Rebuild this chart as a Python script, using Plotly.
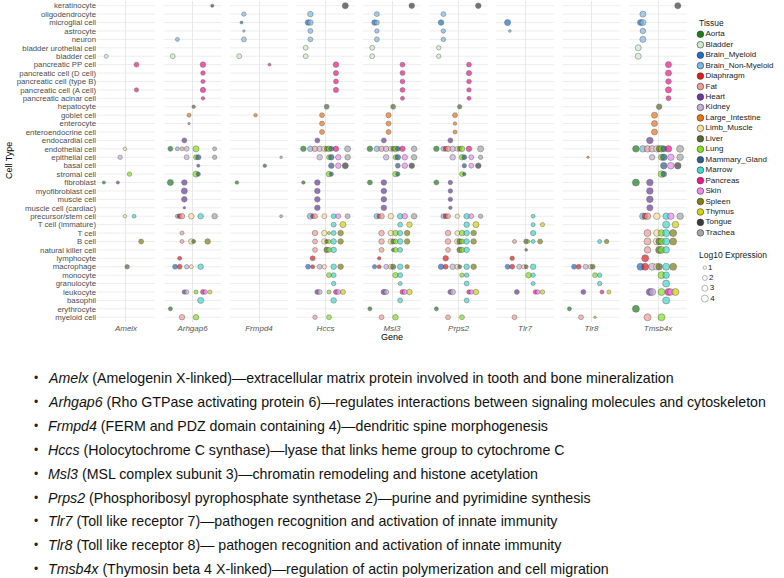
import plotly.graph_objects as go

W, H = 784, 578

GENES = ["Amelx", "Arhgap6", "Frmpd4", "Hccs", "Msl3", "Prps2", "Tlr7", "Tlr8", "Tmsb4x"]

CELL_TYPES = [
    "keratinocyte", "oligodendrocyte", "microglial cell", "astrocyte", "neuron",
    "bladder urothelial cell", "bladder cell", "pancreatic PP cell", "pancreatic cell (D cell)",
    "pancreatic cell (type B)", "pancreatic cell (A cell)", "pancreatic acinar cell", "hepatocyte",
    "goblet cell", "enterocyte", "enteroendocrine cell", "endocardial cell", "endothelial cell",
    "epithelial cell", "basal cell", "stromal cell", "fibroblast", "myofibroblast cell",
    "muscle cell", "muscle cell (cardiac)", "precursor/stem cell", "T cell (immature)", "T cell",
    "B cell", "natural killer cell", "lymphocyte", "macrophage", "monocyte", "granulocyte",
    "leukocyte", "basophil", "erythrocyte", "myeloid cell",
]

TISSUES = [
    "Aorta", "Bladder", "Brain_Myeloid", "Brain_Non-Myeloid", "Diaphragm", "Fat", "Heart",
    "Kidney", "Large_Intestine", "Limb_Muscle", "Liver", "Lung", "Mammary_Gland", "Marrow",
    "Pancreas", "Skin", "Spleen", "Thymus", "Tongue", "Trachea",
]
TISSUE_COLORS = [
    "#1B7D1B", "#C8EFC4", "#1E6FC8", "#7CB8E6", "#E3191C", "#F29C98", "#6A3A9C",
    "#C8AEDA", "#E67716", "#FCE09A", "#556B2F", "#80E31C", "#2D5F8C", "#3ED9CF",
    "#EE1689", "#F08AF0", "#808010", "#D8D20E", "#3B3B3B", "#A8A8A8",
]

SIZE_LEVELS = [1, 2, 3, 4]

# (cell type, tissue, log10 expression)
AMELX = [
    ("bladder cell", "Bladder", 1.3), ("pancreatic PP cell", "Pancreas", 2.0),
    ("pancreatic cell (A cell)", "Pancreas", 1.5), ("endothelial cell", "Limb_Muscle", 1.0),
    ("epithelial cell", "Kidney", 1.6), ("stromal cell", "Lung", 1.6),
    ("fibroblast", "Aorta", 0.8), ("fibroblast", "Heart", 0.8),
    ("precursor/stem cell", "Limb_Muscle", 1.0), ("precursor/stem cell", "Marrow", 1.2),
    ("B cell", "Spleen", 2.0), ("macrophage", "Liver", 1.6),
]

ARHGAP6 = [
    ("keratinocyte", "Tongue", 0.8), ("neuron", "Brain_Non-Myeloid", 1.3),
    ("bladder cell", "Bladder", 2.0), ("pancreatic PP cell", "Pancreas", 2.5),
    ("pancreatic cell (D cell)", "Pancreas", 1.7), ("pancreatic cell (type B)", "Pancreas", 1.4),
    ("pancreatic cell (A cell)", "Pancreas", 2.3), ("pancreatic acinar cell", "Pancreas", 1.0),
    ("hepatocyte", "Liver", 1.0), ("goblet cell", "Large_Intestine", 1.3),
    ("enterocyte", "Large_Intestine", 0.3), ("endocardial cell", "Heart", 2.0),
    ("endothelial cell", "Aorta", 2.0), ("endothelial cell", "Brain_Non-Myeloid", 1.3),
    ("endothelial cell", "Fat", 1.3), ("endothelial cell", "Kidney", 2.0),
    ("endothelial cell", "Lung", 3.0), ("endothelial cell", "Trachea", 1.3),
    ("epithelial cell", "Kidney", 2.0), ("epithelial cell", "Lung", 2.0),
    ("epithelial cell", "Mammary_Gland", 2.2), ("epithelial cell", "Trachea", 1.6),
    ("basal cell", "Mammary_Gland", 0.8), ("stromal cell", "Lung", 3.0),
    ("stromal cell", "Mammary_Gland", 1.5), ("fibroblast", "Aorta", 3.0),
    ("fibroblast", "Heart", 2.5), ("myofibroblast cell", "Heart", 3.0),
    ("muscle cell", "Heart", 2.5), ("muscle cell (cardiac)", "Heart", 0.4),
    ("precursor/stem cell", "Brain_Non-Myeloid", 1.3), ("precursor/stem cell", "Diaphragm", 2.0),
    ("precursor/stem cell", "Fat", 2.5), ("precursor/stem cell", "Limb_Muscle", 2.5),
    ("precursor/stem cell", "Marrow", 2.5), ("precursor/stem cell", "Trachea", 2.5),
    ("T cell", "Fat", 1.3), ("B cell", "Fat", 1.3), ("B cell", "Limb_Muscle", 2.5),
    ("B cell", "Liver", 1.3), ("B cell", "Spleen", 2.5), ("lymphocyte", "Diaphragm", 1.3),
    ("macrophage", "Brain_Myeloid", 2.0), ("macrophage", "Diaphragm", 2.0),
    ("macrophage", "Kidney", 1.6), ("macrophage", "Limb_Muscle", 1.3),
    ("macrophage", "Marrow", 2.5), ("leukocyte", "Heart", 1.6), ("leukocyte", "Kidney", 1.6),
    ("leukocyte", "Lung", 1.3), ("leukocyte", "Pancreas", 2.0), ("leukocyte", "Skin", 1.6),
    ("leukocyte", "Thymus", 1.3), ("basophil", "Marrow", 3.0), ("erythrocyte", "Aorta", 1.3),
    ("myeloid cell", "Fat", 2.5), ("myeloid cell", "Lung", 2.5),
]

FRMPD4 = [
    ("oligodendrocyte", "Brain_Non-Myeloid", 1.6), ("microglial cell", "Brain_Myeloid", 0.7),
    ("astrocyte", "Brain_Non-Myeloid", 0.3), ("neuron", "Brain_Non-Myeloid", 2.0),
    ("bladder cell", "Bladder", 2.0), ("pancreatic PP cell", "Pancreas", 0.7),
    ("goblet cell", "Large_Intestine", 1.0), ("epithelial cell", "Trachea", 0.5),
    ("basal cell", "Mammary_Gland", 1.0), ("fibroblast", "Aorta", 1.0),
    ("precursor/stem cell", "Trachea", 0.7),
]

HCCS = [
    ("keratinocyte", "Tongue", 3.0), ("oligodendrocyte", "Brain_Non-Myeloid", 2.5),
    ("microglial cell", "Brain_Myeloid", 2.5), ("microglial cell", "Brain_Non-Myeloid", 2.5),
    ("astrocyte", "Brain_Non-Myeloid", 2.0), ("neuron", "Brain_Non-Myeloid", 2.0),
    ("bladder urothelial cell", "Bladder", 2.0), ("bladder cell", "Bladder", 2.0),
    ("pancreatic PP cell", "Pancreas", 2.5), ("pancreatic cell (D cell)", "Pancreas", 2.2),
    ("pancreatic cell (type B)", "Pancreas", 2.0), ("pancreatic cell (A cell)", "Pancreas", 2.2),
    ("hepatocyte", "Liver", 2.0), ("goblet cell", "Large_Intestine", 2.0),
    ("enterocyte", "Large_Intestine", 2.0), ("enteroendocrine cell", "Large_Intestine", 2.0),
    ("endocardial cell", "Heart", 2.0),
    ("endothelial cell", "Aorta", 2.5), ("endothelial cell", "Brain_Non-Myeloid", 2.5),
    ("endothelial cell", "Fat", 2.5), ("endothelial cell", "Kidney", 2.5),
    ("endothelial cell", "Limb_Muscle", 2.5), ("endothelial cell", "Liver", 2.0),
    ("endothelial cell", "Lung", 2.5), ("endothelial cell", "Mammary_Gland", 2.0),
    ("endothelial cell", "Pancreas", 2.5), ("endothelial cell", "Trachea", 3.0),
    ("epithelial cell", "Kidney", 2.5), ("epithelial cell", "Lung", 2.0),
    ("epithelial cell", "Mammary_Gland", 2.5), ("epithelial cell", "Skin", 2.5),
    ("epithelial cell", "Trachea", 2.5), ("basal cell", "Mammary_Gland", 2.5),
    ("basal cell", "Skin", 2.5), ("basal cell", "Tongue", 3.0),
    ("stromal cell", "Lung", 2.5), ("stromal cell", "Mammary_Gland", 1.5),
    ("fibroblast", "Aorta", 1.0), ("fibroblast", "Heart", 2.5),
    ("myofibroblast cell", "Heart", 2.5), ("muscle cell", "Heart", 2.5),
    ("muscle cell (cardiac)", "Heart", 2.5),
    ("precursor/stem cell", "Brain_Non-Myeloid", 3.0), ("precursor/stem cell", "Diaphragm", 1.5),
    ("precursor/stem cell", "Fat", 2.0), ("precursor/stem cell", "Limb_Muscle", 2.0),
    ("precursor/stem cell", "Marrow", 2.0), ("precursor/stem cell", "Skin", 2.0),
    ("precursor/stem cell", "Trachea", 2.0),
    ("T cell (immature)", "Marrow", 2.0), ("T cell (immature)", "Thymus", 3.0),
    ("T cell", "Fat", 2.5), ("T cell", "Limb_Muscle", 2.5), ("T cell", "Lung", 0.8),
    ("T cell", "Marrow", 2.0), ("T cell", "Spleen", 2.5),
    ("B cell", "Fat", 2.0), ("B cell", "Limb_Muscle", 2.5), ("B cell", "Liver", 1.3),
    ("B cell", "Lung", 1.3), ("B cell", "Marrow", 2.5), ("B cell", "Spleen", 2.5),
    ("natural killer cell", "Fat", 2.0), ("natural killer cell", "Liver", 2.5),
    ("natural killer cell", "Lung", 2.0), ("natural killer cell", "Marrow", 2.5),
    ("lymphocyte", "Diaphragm", 2.0),
    ("macrophage", "Brain_Myeloid", 2.0), ("macrophage", "Diaphragm", 1.3),
    ("macrophage", "Kidney", 2.0), ("macrophage", "Limb_Muscle", 1.6),
    ("macrophage", "Marrow", 2.5), ("macrophage", "Spleen", 2.5),
    ("monocyte", "Lung", 2.0), ("monocyte", "Marrow", 2.0), ("granulocyte", "Marrow", 1.6),
    ("leukocyte", "Heart", 2.0), ("leukocyte", "Kidney", 2.0), ("leukocyte", "Lung", 1.3),
    ("leukocyte", "Pancreas", 2.0), ("leukocyte", "Skin", 2.0), ("leukocyte", "Thymus", 2.0),
    ("basophil", "Marrow", 2.5), ("myeloid cell", "Fat", 1.6), ("myeloid cell", "Lung", 2.0),
]

MSL3 = [
    ("keratinocyte", "Tongue", 2.5), ("oligodendrocyte", "Brain_Non-Myeloid", 2.0),
    ("microglial cell", "Brain_Myeloid", 2.5), ("microglial cell", "Brain_Non-Myeloid", 2.0),
    ("astrocyte", "Brain_Non-Myeloid", 1.6), ("neuron", "Brain_Non-Myeloid", 2.0),
    ("bladder urothelial cell", "Bladder", 2.0), ("bladder cell", "Bladder", 2.0),
    ("pancreatic PP cell", "Pancreas", 2.0), ("pancreatic cell (D cell)", "Pancreas", 2.0),
    ("pancreatic cell (type B)", "Pancreas", 1.8), ("pancreatic cell (A cell)", "Pancreas", 2.0),
    ("pancreatic acinar cell", "Pancreas", 1.3), ("hepatocyte", "Liver", 2.0),
    ("goblet cell", "Large_Intestine", 2.2), ("enterocyte", "Large_Intestine", 2.0),
    ("enteroendocrine cell", "Large_Intestine", 2.0), ("endocardial cell", "Heart", 2.0),
    ("endothelial cell", "Aorta", 2.5), ("endothelial cell", "Brain_Non-Myeloid", 2.5),
    ("endothelial cell", "Fat", 2.5), ("endothelial cell", "Kidney", 2.5),
    ("endothelial cell", "Limb_Muscle", 2.0), ("endothelial cell", "Liver", 2.0),
    ("endothelial cell", "Lung", 2.5), ("endothelial cell", "Mammary_Gland", 2.0),
    ("endothelial cell", "Pancreas", 2.5), ("endothelial cell", "Trachea", 2.5),
    ("epithelial cell", "Kidney", 2.5), ("epithelial cell", "Lung", 2.0),
    ("epithelial cell", "Mammary_Gland", 2.5), ("epithelial cell", "Skin", 2.5),
    ("epithelial cell", "Trachea", 2.5), ("basal cell", "Mammary_Gland", 2.0),
    ("basal cell", "Skin", 2.5), ("basal cell", "Tongue", 2.5),
    ("stromal cell", "Lung", 2.5), ("stromal cell", "Mammary_Gland", 1.5),
    ("fibroblast", "Aorta", 2.0), ("fibroblast", "Heart", 2.5),
    ("myofibroblast cell", "Heart", 2.5), ("muscle cell", "Heart", 2.5),
    ("muscle cell (cardiac)", "Heart", 2.5),
    ("precursor/stem cell", "Brain_Non-Myeloid", 2.5), ("precursor/stem cell", "Diaphragm", 1.5),
    ("precursor/stem cell", "Fat", 2.5), ("precursor/stem cell", "Limb_Muscle", 2.5),
    ("precursor/stem cell", "Marrow", 2.5), ("precursor/stem cell", "Skin", 2.5),
    ("precursor/stem cell", "Trachea", 2.5),
    ("T cell (immature)", "Marrow", 2.0), ("T cell (immature)", "Thymus", 2.5),
    ("T cell", "Fat", 2.5), ("T cell", "Limb_Muscle", 2.5), ("T cell", "Lung", 2.5),
    ("T cell", "Marrow", 2.2), ("T cell", "Spleen", 2.5),
    ("B cell", "Fat", 2.5), ("B cell", "Limb_Muscle", 2.5), ("B cell", "Liver", 2.0),
    ("B cell", "Lung", 2.0), ("B cell", "Marrow", 2.5), ("B cell", "Spleen", 2.5),
    ("natural killer cell", "Fat", 2.0), ("natural killer cell", "Liver", 1.0),
    ("natural killer cell", "Lung", 2.0), ("natural killer cell", "Marrow", 2.0),
    ("lymphocyte", "Diaphragm", 1.0),
    ("macrophage", "Brain_Myeloid", 1.5), ("macrophage", "Diaphragm", 1.3),
    ("macrophage", "Kidney", 2.0), ("macrophage", "Limb_Muscle", 2.0),
    ("macrophage", "Liver", 2.2), ("macrophage", "Marrow", 2.5), ("macrophage", "Spleen", 1.5),
    ("monocyte", "Lung", 2.5), ("monocyte", "Marrow", 2.0), ("granulocyte", "Marrow", 1.3),
    ("leukocyte", "Heart", 2.5), ("leukocyte", "Kidney", 2.0), ("leukocyte", "Pancreas", 2.0),
    ("leukocyte", "Skin", 2.0), ("leukocyte", "Thymus", 2.5),
    ("basophil", "Marrow", 2.0), ("erythrocyte", "Aorta", 1.3),
    ("myeloid cell", "Fat", 2.0), ("myeloid cell", "Lung", 2.5),
]

PRPS2 = [
    ("keratinocyte", "Tongue", 2.5), ("oligodendrocyte", "Brain_Non-Myeloid", 2.0),
    ("microglial cell", "Brain_Myeloid", 2.5), ("astrocyte", "Brain_Non-Myeloid", 1.6),
    ("neuron", "Brain_Non-Myeloid", 1.6), ("bladder urothelial cell", "Bladder", 1.6),
    ("bladder cell", "Bladder", 1.6), ("pancreatic PP cell", "Pancreas", 2.0),
    ("pancreatic cell (D cell)", "Pancreas", 2.2), ("pancreatic cell (type B)", "Pancreas", 1.8),
    ("pancreatic cell (A cell)", "Pancreas", 1.6), ("pancreatic acinar cell", "Pancreas", 1.3),
    ("hepatocyte", "Liver", 1.6), ("goblet cell", "Large_Intestine", 2.0),
    ("enterocyte", "Large_Intestine", 1.0), ("enteroendocrine cell", "Large_Intestine", 1.3),
    ("endocardial cell", "Heart", 2.0),
    ("endothelial cell", "Aorta", 2.5), ("endothelial cell", "Brain_Non-Myeloid", 2.0),
    ("endothelial cell", "Diaphragm", 2.0), ("endothelial cell", "Fat", 2.5),
    ("endothelial cell", "Kidney", 2.5), ("endothelial cell", "Limb_Muscle", 2.0),
    ("endothelial cell", "Liver", 2.0), ("endothelial cell", "Lung", 2.5),
    ("endothelial cell", "Pancreas", 2.5), ("endothelial cell", "Trachea", 3.0),
    ("epithelial cell", "Kidney", 2.5), ("epithelial cell", "Lung", 2.5),
    ("epithelial cell", "Mammary_Gland", 2.0), ("epithelial cell", "Skin", 2.0),
    ("epithelial cell", "Trachea", 1.6), ("basal cell", "Mammary_Gland", 1.6),
    ("basal cell", "Skin", 2.0), ("basal cell", "Tongue", 2.5),
    ("stromal cell", "Lung", 2.0), ("stromal cell", "Mammary_Gland", 1.0),
    ("fibroblast", "Aorta", 2.0), ("fibroblast", "Heart", 1.6),
    ("myofibroblast cell", "Heart", 1.6), ("muscle cell", "Heart", 1.6),
    ("muscle cell (cardiac)", "Heart", 1.0),
    ("precursor/stem cell", "Brain_Non-Myeloid", 2.0), ("precursor/stem cell", "Diaphragm", 2.0),
    ("precursor/stem cell", "Fat", 2.0), ("precursor/stem cell", "Limb_Muscle", 1.6),
    ("precursor/stem cell", "Marrow", 2.5), ("precursor/stem cell", "Skin", 2.0),
    ("precursor/stem cell", "Trachea", 1.6),
    ("T cell (immature)", "Marrow", 2.5), ("T cell (immature)", "Thymus", 3.0),
    ("T cell", "Fat", 2.5), ("T cell", "Limb_Muscle", 2.0), ("T cell", "Lung", 2.5),
    ("T cell", "Marrow", 2.5), ("T cell", "Spleen", 2.5),
    ("B cell", "Fat", 2.5), ("B cell", "Limb_Muscle", 2.5), ("B cell", "Liver", 2.5),
    ("B cell", "Lung", 2.0), ("B cell", "Marrow", 2.5), ("B cell", "Spleen", 2.5),
    ("natural killer cell", "Fat", 2.0), ("natural killer cell", "Liver", 2.5),
    ("natural killer cell", "Lung", 2.2), ("natural killer cell", "Marrow", 2.5),
    ("lymphocyte", "Diaphragm", 2.5),
    ("macrophage", "Brain_Myeloid", 2.5), ("macrophage", "Diaphragm", 2.0),
    ("macrophage", "Kidney", 2.5), ("macrophage", "Limb_Muscle", 2.0),
    ("macrophage", "Liver", 1.3), ("macrophage", "Marrow", 2.5), ("macrophage", "Spleen", 2.5),
    ("monocyte", "Lung", 1.6), ("monocyte", "Marrow", 1.6), ("granulocyte", "Marrow", 2.0),
    ("leukocyte", "Heart", 2.0), ("leukocyte", "Kidney", 2.5), ("leukocyte", "Pancreas", 1.6),
    ("leukocyte", "Skin", 1.6), ("leukocyte", "Thymus", 2.5),
    ("basophil", "Marrow", 2.0), ("erythrocyte", "Aorta", 1.3),
    ("myeloid cell", "Fat", 2.0), ("myeloid cell", "Lung", 2.0),
]

TLR7 = [
    ("microglial cell", "Brain_Myeloid", 3.0), ("astrocyte", "Brain_Non-Myeloid", 0.6),
    ("precursor/stem cell", "Marrow", 1.2), ("T cell (immature)", "Marrow", 1.3),
    ("T cell (immature)", "Thymus", 1.5), ("T cell", "Marrow", 2.3),
    ("B cell", "Fat", 1.3), ("B cell", "Liver", 2.0), ("B cell", "Lung", 0.8),
    ("B cell", "Marrow", 1.3), ("B cell", "Spleen", 2.0),
    ("natural killer cell", "Liver", 0.6), ("lymphocyte", "Diaphragm", 1.6),
    ("macrophage", "Brain_Myeloid", 2.0), ("macrophage", "Diaphragm", 2.0),
    ("macrophage", "Kidney", 2.0), ("macrophage", "Limb_Muscle", 1.6),
    ("macrophage", "Liver", 1.3), ("macrophage", "Marrow", 2.5),
    ("monocyte", "Lung", 2.5), ("monocyte", "Marrow", 1.6), ("granulocyte", "Marrow", 1.3),
    ("leukocyte", "Heart", 2.0), ("leukocyte", "Pancreas", 1.6), ("leukocyte", "Skin", 1.6),
    ("leukocyte", "Thymus", 1.6), ("myeloid cell", "Fat", 2.0),
]

TLR8 = [
    ("epithelial cell", "Large_Intestine", 0.3), ("B cell", "Marrow", 1.3),
    ("B cell", "Spleen", 1.6), ("macrophage", "Brain_Myeloid", 2.0),
    ("macrophage", "Diaphragm", 2.0), ("macrophage", "Kidney", 2.0),
    ("macrophage", "Limb_Muscle", 1.6), ("macrophage", "Liver", 2.0),
    ("monocyte", "Lung", 2.0), ("monocyte", "Marrow", 1.6), ("granulocyte", "Marrow", 1.6),
    ("leukocyte", "Heart", 2.0), ("leukocyte", "Pancreas", 1.3), ("leukocyte", "Thymus", 1.3),
    ("erythrocyte", "Aorta", 1.3), ("myeloid cell", "Fat", 2.0), ("myeloid cell", "Lung", 0.5),
]

TMSB4X = [
    ("keratinocyte", "Tongue", 3.0), ("oligodendrocyte", "Brain_Non-Myeloid", 3.0),
    ("microglial cell", "Brain_Myeloid", 3.0), ("microglial cell", "Brain_Non-Myeloid", 3.0),
    ("astrocyte", "Brain_Non-Myeloid", 2.5), ("neuron", "Brain_Non-Myeloid", 3.0),
    ("bladder urothelial cell", "Bladder", 3.0), ("bladder cell", "Bladder", 3.0),
    ("pancreatic PP cell", "Pancreas", 3.0), ("pancreatic cell (D cell)", "Pancreas", 3.0),
    ("pancreatic cell (type B)", "Pancreas", 2.5), ("pancreatic cell (A cell)", "Pancreas", 3.0),
    ("pancreatic acinar cell", "Pancreas", 2.0), ("hepatocyte", "Liver", 2.5),
    ("goblet cell", "Large_Intestine", 3.0), ("enterocyte", "Large_Intestine", 3.0),
    ("enteroendocrine cell", "Large_Intestine", 3.0), ("endocardial cell", "Heart", 3.5),
    ("endothelial cell", "Aorta", 3.5), ("endothelial cell", "Brain_Non-Myeloid", 3.5),
    ("endothelial cell", "Fat", 3.5), ("endothelial cell", "Kidney", 3.5),
    ("endothelial cell", "Limb_Muscle", 3.5), ("endothelial cell", "Liver", 3.0),
    ("endothelial cell", "Lung", 3.5), ("endothelial cell", "Mammary_Gland", 3.0),
    ("endothelial cell", "Pancreas", 3.5), ("endothelial cell", "Trachea", 4.0),
    ("epithelial cell", "Kidney", 2.5), ("epithelial cell", "Lung", 3.0),
    ("epithelial cell", "Mammary_Gland", 3.5), ("epithelial cell", "Skin", 3.5),
    ("epithelial cell", "Trachea", 3.5), ("basal cell", "Mammary_Gland", 3.5),
    ("basal cell", "Skin", 3.5), ("basal cell", "Tongue", 3.5),
    ("stromal cell", "Lung", 3.5), ("stromal cell", "Mammary_Gland", 2.5),
    ("fibroblast", "Aorta", 4.0), ("fibroblast", "Heart", 3.5),
    ("myofibroblast cell", "Heart", 3.5), ("muscle cell", "Heart", 3.5),
    ("muscle cell (cardiac)", "Heart", 3.0),
    ("precursor/stem cell", "Brain_Non-Myeloid", 3.5), ("precursor/stem cell", "Diaphragm", 3.0),
    ("precursor/stem cell", "Fat", 3.5), ("precursor/stem cell", "Limb_Muscle", 3.5),
    ("precursor/stem cell", "Marrow", 3.5), ("precursor/stem cell", "Skin", 3.5),
    ("precursor/stem cell", "Trachea", 3.5),
    ("T cell (immature)", "Marrow", 4.0), ("T cell (immature)", "Thymus", 3.5),
    ("T cell", "Fat", 4.0), ("T cell", "Limb_Muscle", 3.5), ("T cell", "Lung", 3.5),
    ("T cell", "Marrow", 4.0), ("T cell", "Spleen", 4.0),
    ("B cell", "Fat", 4.0), ("B cell", "Limb_Muscle", 4.0), ("B cell", "Liver", 3.5),
    ("B cell", "Lung", 3.5), ("B cell", "Marrow", 4.0), ("B cell", "Spleen", 4.0),
    ("natural killer cell", "Fat", 3.5), ("natural killer cell", "Liver", 4.0),
    ("natural killer cell", "Lung", 4.0), ("natural killer cell", "Marrow", 3.5),
    ("lymphocyte", "Diaphragm", 4.0),
    ("macrophage", "Brain_Myeloid", 4.0), ("macrophage", "Diaphragm", 4.0),
    ("macrophage", "Kidney", 4.0), ("macrophage", "Limb_Muscle", 3.5),
    ("macrophage", "Liver", 3.5), ("macrophage", "Marrow", 4.0), ("macrophage", "Spleen", 4.0),
    ("monocyte", "Lung", 4.0), ("monocyte", "Marrow", 3.5), ("granulocyte", "Marrow", 4.0),
    ("leukocyte", "Heart", 4.0), ("leukocyte", "Kidney", 4.0), ("leukocyte", "Lung", 4.0),
    ("leukocyte", "Pancreas", 4.0), ("leukocyte", "Skin", 3.5), ("leukocyte", "Thymus", 4.0),
    ("basophil", "Marrow", 4.0), ("erythrocyte", "Aorta", 4.0),
    ("myeloid cell", "Fat", 4.0), ("myeloid cell", "Lung", 4.0),
]

GENE_DATA = {
    "Amelx": AMELX, "Arhgap6": ARHGAP6, "Frmpd4": FRMPD4, "Hccs": HCCS, "Msl3": MSL3,
    "Prps2": PRPS2, "Tlr7": TLR7, "Tlr8": TLR8, "Tmsb4x": TMSB4X,
}

BULLET_GENES = GENES
BULLET_TEXTS = [
    "(Amelogenin X-linked)\u2014extracellular matrix protein involved in tooth and bone mineralization",
    "(Rho GTPase activating protein 6)\u2014regulates interactions between signaling molecules and cytoskeleton",
    "(FERM and PDZ domain containing 4)\u2014dendritic spine morphogenesis",
    "(Holocytochrome C synthase)\u2014lyase that links heme group to cytochrome C",
    "(MSL complex subunit 3)\u2014chromatin remodeling and histone acetylation",
    "(Phosphoribosyl pyrophosphate synthetase 2)\u2014purine and pyrimidine synthesis",
    "(Toll like receptor 7)\u2014pathogen recognition and activation of innate immunity",
    "(Toll like receptor 8)\u2014 pathogen recognition and activation of innate immunity",
    "(Thymosin beta 4 X-linked)\u2014regulation of actin polymerization and cell migration",
]

# ---------------- layout helpers (pixel geometry) ----------------
def px_x(p):
    return p / W

def px_y(p):
    return 1 - p / H

FONT = "Liberation Sans, Arial, sans-serif"
SIZEREF = 8 / 49  # area mode: value 4 -> 7 px diameter
OUTLINE = dict(color="rgba(50,50,50,0.85)", width=0.6)
HALF_PANEL = 0.436   # half width of each gene facet, in category units
GRID = "#E8E8E8"

fig = go.Figure()

for tissue, color in zip(TISSUES, TISSUE_COLORS):
    xs, ys, ss = [], [], []
    for gene in GENES:
        for cell, t, v in GENE_DATA[gene]:
            if t == tissue:
                xs.append(gene)
                ys.append(cell)
                ss.append(v)
    fig.add_trace(go.Scatter(
        x=xs, y=ys, mode="markers", name=tissue, orientation="v",
        marker=dict(size=ss, sizemode="area", sizeref=SIZEREF, sizemin=1.2,
                    color=color, line=OUTLINE),
        showlegend=False, hoverinfo="x+y+name",
    ))

# Tissue legend (drawn as a small auxiliary scatter)
LEG_STEP = 10.45
LEG_TOP = 34.3
leg_y_range = [(H - LEG_TOP) / LEG_STEP, (0 - LEG_TOP) / LEG_STEP]
fig.add_trace(go.Scatter(
    x=[0] * len(TISSUES), y=list(range(len(TISSUES))), mode="markers+text",
    text=TISSUES, textposition="middle right",
    textfont=dict(family=FONT, size=8, color="#1a1a1a"),
    marker=dict(size=6.6, color=TISSUE_COLORS, line=dict(color="rgba(40,40,40,0.9)", width=0.6)),
    xaxis="x2", yaxis="y2", showlegend=False, hoverinfo="skip", cliponaxis=False,
))
size_leg_pos = [(267.7 - LEG_TOP) / LEG_STEP + i * (10.3 / LEG_STEP) for i in range(len(SIZE_LEVELS))]
fig.add_trace(go.Scatter(
    x=[0] * len(SIZE_LEVELS), y=size_leg_pos, mode="markers+text",
    text=[str(s) for s in SIZE_LEVELS], textposition="middle right",
    textfont=dict(family=FONT, size=8, color="#1a1a1a"),
    marker=dict(size=SIZE_LEVELS, sizemode="area", sizeref=SIZEREF, color="white",
                line=dict(color="rgba(60,60,60,0.9)", width=0.6)),
    xaxis="x2", yaxis="y2", showlegend=False, hoverinfo="skip", cliponaxis=False,
))

# horizontal gridlines, broken per gene facet
shapes = []
for r in range(len(CELL_TYPES)):
    for i in range(len(GENES)):
        shapes.append(dict(type="line", xref="x", yref="y", x0=i - HALF_PANEL,
                           x1=i + HALF_PANEL, y0=r, y1=r, layer="below",
                           line=dict(color=GRID, width=0.8)))

annotations = [
    dict(text="Gene", x=px_x(392), y=px_y(337), xref="paper", yref="paper",
         showarrow=False, font=dict(family=FONT, size=9, color="#000000"),
         xanchor="center", yanchor="middle"),
    dict(text="Cell Type", x=px_x(9), y=px_y(161), xref="paper", yref="paper",
         showarrow=False, textangle=-90, font=dict(family=FONT, size=9, color="#000000"),
         xanchor="center", yanchor="middle"),
    dict(text="Tissue", x=px_x(697), y=px_y(22.7), xref="paper", yref="paper",
         showarrow=False, font=dict(family=FONT, size=8.5, color="#1a1a1a"),
         xanchor="left", yanchor="middle"),
    dict(text="Log10 Expression", x=px_x(697), y=px_y(255), xref="paper", yref="paper",
         showarrow=False, font=dict(family=FONT, size=8.5, color="#1a1a1a"),
         xanchor="left", yanchor="middle"),
]

BUL_TOP = 378
BUL_STEP = 23.9
for i, (g, t) in enumerate(zip(BULLET_GENES, BULLET_TEXTS)):
    yy = px_y(BUL_TOP + i * BUL_STEP)
    annotations.append(dict(text="\u2022", x=px_x(32), y=yy, xref="paper", yref="paper",
                            showarrow=False, xanchor="left", yanchor="middle",
                            font=dict(family=FONT, size=12, color="#222222")))
    annotations.append(dict(text=f"<i>{g}</i> {t}", x=px_x(46), y=yy, xref="paper",
                            yref="paper", showarrow=False, xanchor="left", yanchor="middle",
                            font=dict(family=FONT, size=14.2, color="#111111")))

fig.update_layout(
    width=W, height=H,
    margin=dict(l=0, r=0, t=0, b=0),
    paper_bgcolor="white", plot_bgcolor="white",
    scattermode="group", scattergap=0.3,
    showlegend=False,
    xaxis=dict(
        domain=[px_x(97), px_x(687)], type="category",
        categoryorder="array", categoryarray=GENES,
        tickmode="array", tickvals=GENES, ticktext=[f"<i>{g}</i>" for g in GENES],
        range=[-HALF_PANEL, len(GENES) - 1 + HALF_PANEL],
        showgrid=True, gridcolor=GRID, gridwidth=0.8,
        showline=False, zeroline=False, ticks="",
        tickfont=dict(family=FONT, size=8, color="#555555"),
        automargin=False, fixedrange=True,
    ),
    yaxis=dict(
        domain=[px_y(322.3), px_y(0.65)], type="category",
        categoryorder="array", categoryarray=CELL_TYPES,
        tickmode="array", tickvals=CELL_TYPES, ticktext=CELL_TYPES,
        range=[len(CELL_TYPES) - 1 + 0.6, -0.6],
        showgrid=False, showline=False, zeroline=False, ticks="",
        tickfont=dict(family=FONT, size=7.8, color="#4d4d4d"),
        automargin=False, fixedrange=True,
    ),
    xaxis2=dict(domain=[0.88, 1.0], range=[-1, 6.4], visible=False, fixedrange=True),
    yaxis2=dict(domain=[0, 1], range=leg_y_range, visible=False, fixedrange=True),
    shapes=shapes,
    annotations=annotations,
)

fig.write_html("out.html", config={"displayModeBar": False},
               post_script="document.body.style.margin='0px';")
